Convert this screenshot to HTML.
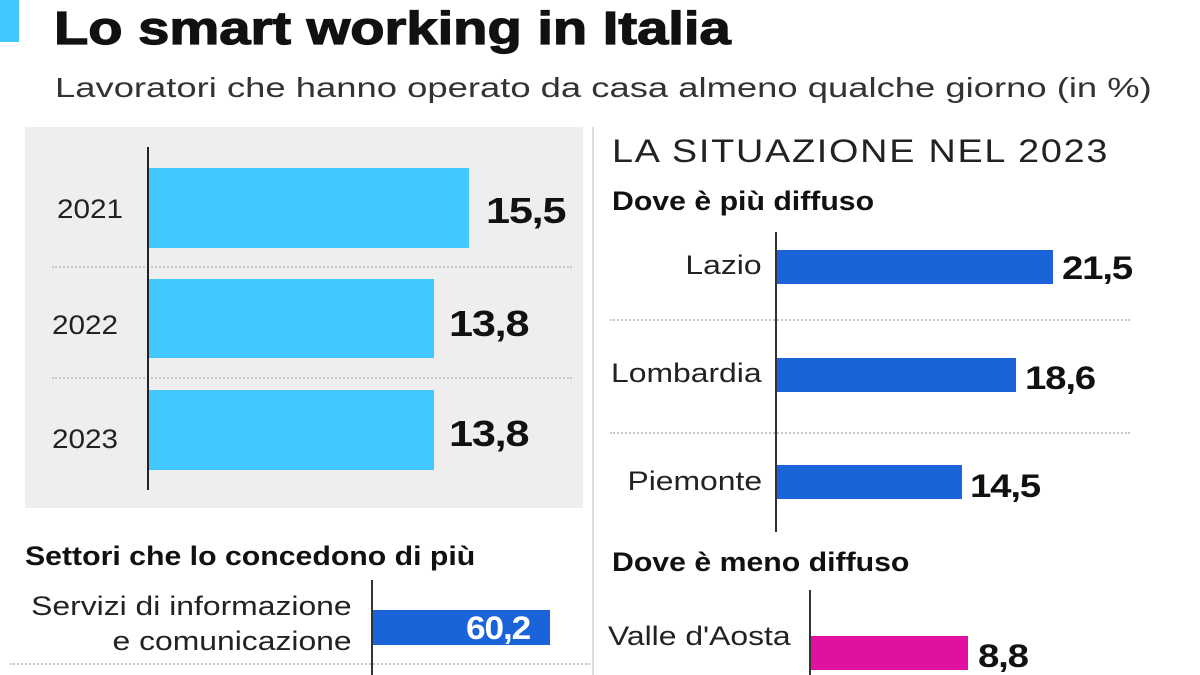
<!DOCTYPE html>
<html><head><meta charset="utf-8"><style>
*{margin:0;padding:0;box-sizing:border-box}
body{width:1200px;height:675px;background:#fff;position:relative;overflow:hidden;font-family:"Liberation Sans",sans-serif;color:#111}
div{position:absolute}
.t{white-space:nowrap}
.dot{height:0;border-top:2px dotted #c8c8c8}
.lbl{font-size:27px;color:#222;text-align:right;line-height:1;transform:scaleX(1.18);transform-origin:right}
.lblL{font-size:27px;color:#222;line-height:1;transform:scaleX(1.18);transform-origin:left}
.val{font-weight:bold;font-size:36px;letter-spacing:-1px;line-height:1;transform:scaleX(1.2);transform-origin:left}
.cond{font-weight:bold;font-size:27px;transform:scaleX(1.12);transform-origin:left;line-height:1}
</style></head><body>
<div style="left:0;top:0;width:19px;height:42px;background:#40c8ff"></div>
<div class="t" style="left:54px;top:2px;font-size:46px;font-weight:bold;line-height:52px;transform:scaleX(1.22);transform-origin:left;-webkit-text-stroke:1.2px #111">Lo smart working in Italia</div>
<div class="t" style="left:55px;top:72px;font-size:28px;color:#333;line-height:32px;transform:scaleX(1.3);transform-origin:left">Lavoratori che hanno operato da casa almeno qualche giorno (in %)</div>

<div style="left:25px;top:127px;width:558px;height:381px;background:#eeeeee"></div>
<div class="dot" style="left:52px;top:266px;width:520px"></div>
<div class="dot" style="left:52px;top:377px;width:520px"></div>
<div style="left:147px;top:147px;width:2px;height:343px;background:#222"></div>
<div style="left:149px;top:168px;width:320px;height:80px;background:#40c8ff"></div>
<div style="left:149px;top:279px;width:285px;height:79px;background:#40c8ff"></div>
<div style="left:149px;top:390px;width:285px;height:80px;background:#40c8ff"></div>
<div class="t lblL" style="left:57px;top:196px;transform:scaleX(1.1)">2021</div>
<div class="t lblL" style="left:52px;top:312px;transform:scaleX(1.1)">2022</div>
<div class="t lblL" style="left:52px;top:426px;transform:scaleX(1.1)">2023</div>
<div class="t val" style="left:486px;top:193px">15,5</div>
<div class="t val" style="left:449px;top:306px">13,8</div>
<div class="t val" style="left:449px;top:416px">13,8</div>

<div style="left:592px;top:127px;width:2px;height:548px;background:#ddd"></div>

<div class="t" style="left:612px;top:133px;font-size:32px;letter-spacing:1.5px;color:#222;line-height:36px;transform:scaleX(1.18);transform-origin:left">LA SITUAZIONE NEL 2023</div>
<div class="t cond" style="left:612px;top:188px">Dove è più diffuso</div>
<div class="dot" style="left:610px;top:319px;width:520px"></div>
<div class="dot" style="left:610px;top:432px;width:520px"></div>
<div style="left:775px;top:232px;width:2px;height:300px;background:#333"></div>
<div style="left:777px;top:250px;width:276px;height:34px;background:#1a63d8"></div>
<div style="left:777px;top:358px;width:239px;height:34px;background:#1a63d8"></div>
<div style="left:777px;top:465px;width:185px;height:34px;background:#1a63d8"></div>
<div class="t lbl" style="right:438px;top:252px">Lazio</div>
<div class="t lbl" style="right:438px;top:360px">Lombardia</div>
<div class="t lbl" style="right:438px;top:468px">Piemonte</div>
<div class="t val" style="left:1062px;top:252px;font-size:32px">21,5</div>
<div class="t val" style="left:1025px;top:362px;font-size:32px">18,6</div>
<div class="t val" style="left:970px;top:470px;font-size:32px">14,5</div>

<div class="t cond" style="left:612px;top:549px">Dove è meno diffuso</div>
<div style="left:809px;top:590px;width:2px;height:85px;background:#333"></div>
<div style="left:811px;top:636px;width:157px;height:34px;background:#e010a0"></div>
<div class="t lblL" style="left:608px;top:623px">Valle d'Aosta</div>
<div class="t val" style="left:978px;top:640px;font-size:32px">8,8</div>

<div class="t cond" style="left:25px;top:543px">Settori che lo concedono di più</div>
<div style="left:371px;top:580px;width:2px;height:95px;background:#333"></div>
<div style="left:373px;top:610px;width:177px;height:35px;background:#1a63d8"></div>
<div class="t val" style="left:466px;top:612px;font-size:32px;color:#fff;transform:scaleX(1.1)">60,2</div>
<div class="t lbl" style="right:848px;top:593px">Servizi di informazione</div>
<div class="t lbl" style="right:848px;top:628px">e comunicazione</div>
<div class="dot" style="left:10px;top:663px;width:580px"></div>
</body></html>
